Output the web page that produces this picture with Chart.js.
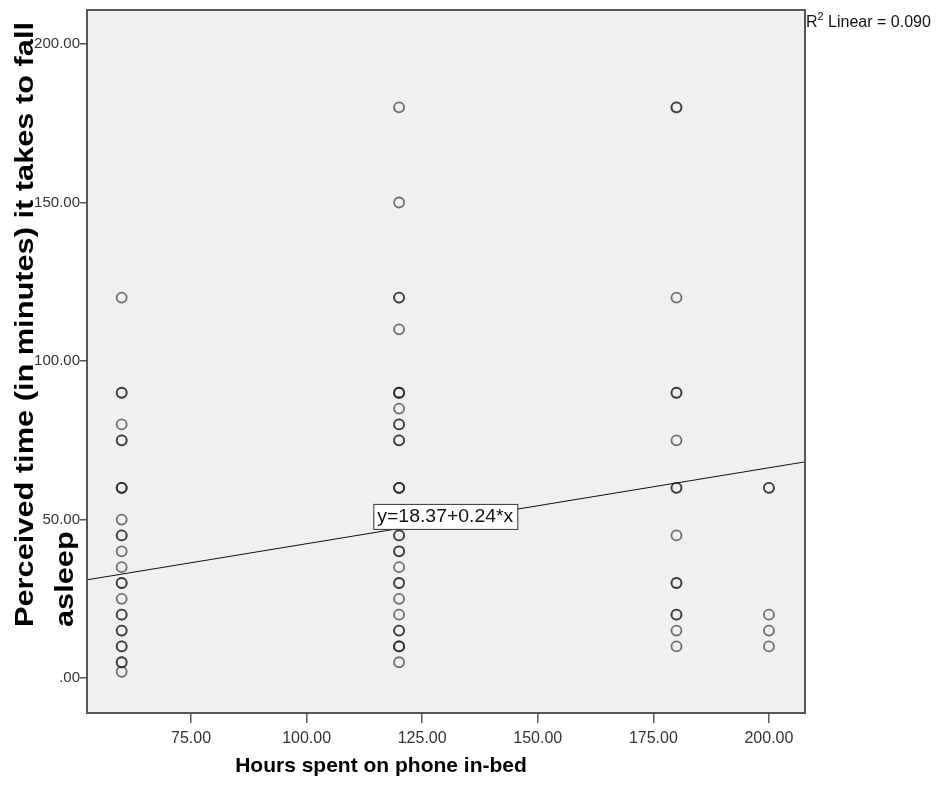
<!DOCTYPE html>
<html>
<head>
<meta charset="utf-8">
<script src="https://cdn.jsdelivr.net/npm/chart.js@4/dist/chart.umd.min.js"></script>
<style>
  html, body { margin: 0; padding: 0; background: #fff; }
  #wrap { width: 946px; height: 807px; }
</style>
</head>
<body>
<div id="wrap"><canvas id="scatterChart" width="946" height="807"></canvas></div>
<script>
// hours on phone groups and the sleep-latency answers in each (repeats = overlapping circles)
var groupHours = [60, 120, 180, 200];
var sleep60 = [120, 90, 90, 80, 75, 75, 60, 60, 60, 50, 45, 45, 40, 35, 30, 30, 25, 20, 20, 15, 15, 10, 10, 5, 5, 2];
var sleep120 = [180, 150, 120, 120, 110, 90, 90, 90, 85, 80, 80, 75, 75, 60, 60, 60, 50, 45, 45, 40, 40, 35, 30, 30, 25, 20, 15, 15, 10, 10, 10, 5];
var sleep180 = [180, 180, 120, 90, 90, 75, 60, 60, 45, 30, 30, 20, 20, 15, 10];
var sleep200 = [60, 60, 20, 15, 10];

// fit line read at the two plot edges
var fitX = [52.5, 207.8];
var fitY = [31.0, 68.2];

var xTicks = [75, 100, 125, 150, 175, 200];
var yTicks = [0, 50, 100, 150, 200];

var fitLabel = 'y=18.37+0.24*x';
var r2Label = 'Linear = 0.090';
var xTitle = 'Hours spent on phone in-bed';
var yTitle = ['Perceived time (in minutes) it takes to fall', 'asleep'];

var points = [];
[sleep60, sleep120, sleep180, sleep200].forEach(function (arr, i) {
    arr.forEach(function (v) { points.push({ x: groupHours[i], y: v }); });
});
var fitPoints = fitX.map(function (x, i) { return { x: x, y: fitY[i] }; });

var spssPlugin = {
    id: 'spss',
    beforeDraw: function (chart) {
        var a = chart.chartArea, ctx = chart.ctx;
        ctx.save();
        ctx.fillStyle = '#f0f0f0';
        ctx.fillRect(a.left, a.top, a.right - a.left, a.bottom - a.top);
        ctx.restore();
    },
    afterDraw: function (chart) {
        var a = chart.chartArea, ctx = chart.ctx;
        var xs = chart.scales.x, ys = chart.scales.y;
        ctx.save();
        // frame
        ctx.strokeStyle = '#555';
        ctx.lineWidth = 2;
        ctx.strokeRect(a.left, a.top, a.right - a.left, a.bottom - a.top);

        // equation label box
        ctx.font = '18px Arial, "Liberation Sans", sans-serif';
        var lx = xs.getPixelForValue(130), ly = ys.getPixelForValue(51);
        var tw = ctx.measureText(fitLabel).width;
        var bw = 144, bh = 25;
        ctx.fillStyle = '#fff';
        ctx.fillRect(lx - bw / 2, ly - bh / 2, bw, bh);
        ctx.strokeStyle = '#333';
        ctx.lineWidth = 1;
        ctx.strokeRect(lx - bw / 2 + 0.5, ly - bh / 2 + 0.5, bw, bh);
        ctx.fillStyle = '#111';
        ctx.textBaseline = 'middle';
        ctx.textAlign = 'left';
        ctx.save();
        ctx.translate(lx - bw / 2 + 4, ly + 1);
        ctx.scale((bw - 8) / tw, 1);
        ctx.fillText(fitLabel, 0, 0);
        ctx.restore();

        // R squared
        ctx.fillStyle = '#111';
        ctx.font = '16px Arial, "Liberation Sans", sans-serif';
        ctx.textBaseline = 'alphabetic';
        ctx.fillText('R', a.right + 1, 27);
        var rw = ctx.measureText('R').width;
        ctx.font = '11px Arial, "Liberation Sans", sans-serif';
        ctx.fillText('2', a.right + 1 + rw, 20);
        var sw = ctx.measureText('2').width;
        ctx.font = '16px Arial, "Liberation Sans", sans-serif';
        ctx.fillText(' ' + r2Label, a.right + 1 + rw + sw, 27);

        // x title
        ctx.font = 'bold 21px Arial, "Liberation Sans", sans-serif';
        ctx.textAlign = 'center';
        ctx.fillStyle = '#000';
        ctx.fillText(xTitle, 381, 772);

        // y title, two lines, stretched along the axis like the SPSS export
        ctx.font = 'bold 25px Arial, "Liberation Sans", sans-serif';
        ctx.textAlign = 'left';
        var w1 = ctx.measureText(yTitle[0]).width;
        var stretch = 605 / w1;
        ctx.save();
        ctx.translate(33, 627);
        ctx.rotate(-Math.PI / 2);
        ctx.scale(stretch, 1);
        ctx.fillText(yTitle[0], 0, 0);
        ctx.fillText(yTitle[1], 0, 40);
        ctx.restore();
        ctx.restore();
    }
};

new Chart(document.getElementById('scatterChart'), {
    type: 'scatter',
    data: {
        datasets: [
            {
                label: 'cases',
                data: points,
                pointRadius: 5,
                pointStyle: 'circle',
                backgroundColor: 'rgba(0,0,0,0)',
                borderColor: 'rgba(30,30,30,0.62)',
                borderWidth: 1.8
            },
            {
                type: 'line',
                label: 'fit',
                data: fitPoints,
                borderColor: '#111',
                borderWidth: 1,
                pointRadius: 0,
                fill: false
            }
        ]
    },
    options: {
        responsive: false,
        animation: false,
        layout: { padding: { left: 0, top: 10, right: 141, bottom: 0 } },
        plugins: {
            legend: { display: false },
            tooltip: { enabled: false }
        },
        scales: {
            x: {
                type: 'linear',
                min: 52.5,
                max: 207.8,
                afterBuildTicks: function (s) { s.ticks = xTicks.map(function (v) { return { value: v }; }); },
                afterFit: function (s) { s.height = 94; },
                border: { display: false },
                grid: { drawOnChartArea: false, drawTicks: true, tickLength: 10, color: '#555', lineWidth: 1.5 },
                ticks: {
                    font: { family: 'Arial, "Liberation Sans", sans-serif', size: 16 },
                    color: '#333',
                    padding: 6,
                    maxRotation: 0,
                    callback: function (v) { return v.toFixed(2); }
                }
            },
            y: {
                type: 'linear',
                min: -11,
                max: 210.7,
                afterBuildTicks: function (s) { s.ticks = yTicks.map(function (v) { return { value: v }; }); },
                afterFit: function (s) { s.width = 87; },
                border: { display: false },
                grid: { drawOnChartArea: false, drawTicks: true, tickLength: 7, color: '#555', lineWidth: 1.5 },
                ticks: {
                    font: { family: 'Arial, "Liberation Sans", sans-serif', size: 15 },
                    color: '#333',
                    padding: 0,
                    callback: function (v) { return v === 0 ? '.00' : v.toFixed(2); }
                }
            }
        }
    },
    plugins: [spssPlugin]
});
</script>
</body>
</html>
